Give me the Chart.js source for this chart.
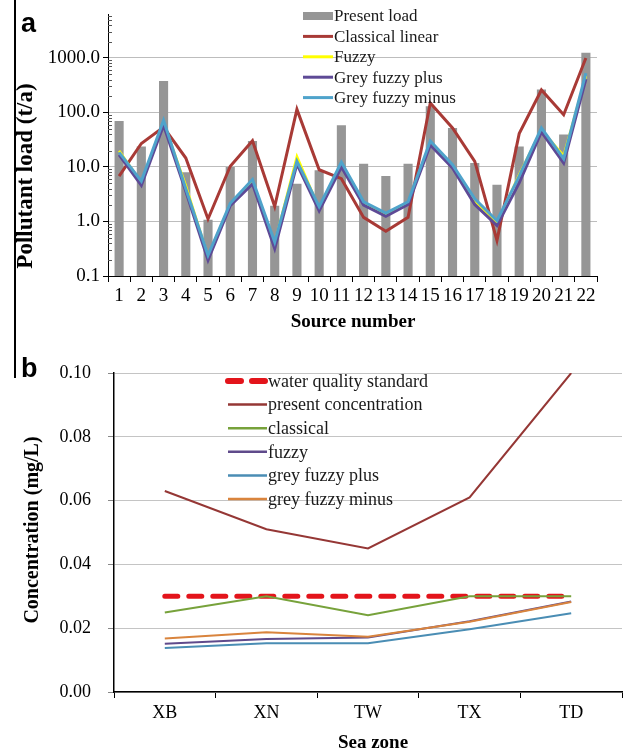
<!DOCTYPE html>
<html><head><meta charset="utf-8">
<script src="https://cdn.jsdelivr.net/npm/chart.js@4.4.1/dist/chart.umd.min.js"></script>
<style>
html,body{margin:0;padding:0;background:#fff;}
#wrap{position:relative;width:629px;height:753px;overflow:hidden;background:#fff;}
#ca{position:absolute;left:0;top:0;width:629px;height:340px;}
#cb{position:absolute;left:0;top:340px;width:629px;height:413px;}
#vline{position:absolute;left:14px;top:0;width:2px;height:378px;background:#000;}
</style></head><body>
<div id="wrap"><canvas id="ca" width="629" height="340"></canvas><canvas id="cb" width="629" height="413"></canvas><div id="vline"></div></div>
<script>
// ---------- Panel a data ----------
const sourceNumbers = ['1','2','3','4','5','6','7','8','9','10','11','12','13','14','15','16','17','18','19','20','21','22'];
const presentLoad    = [70, 23.7, 378, 8.0, 1.08, 10, 30, 1.94, 4.9, 8.7, 58, 11.5, 6.8, 11.5, 130, 52, 11.8, 4.7, 23.7, 263, 39.5, 1250];
const classicalLinear= [6.8, 27, 54, 14.6, 1.11, 10.3, 30.4, 1.88, 114, 8.9, 6.1, 1.19, 0.66, 1.19, 149, 52, 12.7, 0.45, 41, 259, 91, 1000];
const fuzzyA         = [19.8, 5.2, 66, 4.6, 0.23, 2.1, 5.5, 0.40, 15.6, 1.75, 11.5, 2.2, 1.37, 2.2, 28, 10.5, 2.4, 0.95, 7.3, 48, 16, 470];
const greyFuzzyPlusA = [16.7, 4.6, 58.5, 3.6, 0.195, 1.94, 4.9, 0.32, 11.3, 1.57, 10, 2.0, 1.24, 2.05, 25.4, 9.6, 2.05, 0.84, 5.1, 44, 11.8, 410];
const greyFuzzyMinusA= [18.5, 5.5, 72, 4.0, 0.24, 2.16, 5.9, 0.42, 12.7, 1.88, 12.3, 2.3, 1.43, 2.3, 30, 11, 2.6, 1.03, 6.8, 52, 14.2, 525];
const yTicksA = [0.1, 1, 10, 100, 1000];

// ---------- Panel b data ----------
const seaZones = ['XB','XN','TW','TX','TD'];
const waterStandard   = [0.030, 0.030, 0.030, 0.030, 0.030];
const presentConc     = [0.063, 0.051, 0.045, 0.061, 0.100];
const classicalB      = [0.0249, 0.0300, 0.0241, 0.0300, 0.0300];
const fuzzyB          = [0.0151, 0.0166, 0.0171, 0.0222, 0.0284];
const greyFuzzyPlusB  = [0.0138, 0.0153, 0.0153, 0.0197, 0.0247];
const greyFuzzyMinusB = [0.0168, 0.0187, 0.0173, 0.0220, 0.0282];

const SERIF = "'Liberation Serif','Times New Roman',serif";
const SANS = "'Liberation Sans',Arial,sans-serif";

const decorPlugin = {
  id: 'decor',
  afterDraw(chart, args, opts) {
    const ctx = chart.ctx;
    ctx.save();
    if (opts.minor) {
      const s = chart.scales.y;
      ctx.strokeStyle = '#555'; ctx.lineWidth = 1;
      for (let e = -1; e <= 3; e++) for (let k = 2; k <= 9; k++) {
        const v = k * Math.pow(10, e);
        if (v > s.max) continue;
        const y = Math.round(s.getPixelForValue(v)) + 0.5;
        ctx.beginPath(); ctx.moveTo(s.right, y); ctx.lineTo(s.right + 4, y); ctx.stroke();
      }
    }
    const L = opts.legend;
    if (L) {
      chart.data.datasets.forEach((ds, i) => {
        const y = L.y0 + i * L.dy;
        if (ds.type === 'bar') {
          ctx.fillStyle = ds.backgroundColor;
          ctx.fillRect(L.x0, y - L.barH / 2, L.x1 - L.x0, L.barH);
        } else {
          ctx.strokeStyle = ds.borderColor;
          ctx.lineWidth = ds.legendWidth || ds.borderWidth;
          ctx.lineCap = ds.borderCapStyle || 'butt';
          ctx.setLineDash(ds.borderDash || []);
          ctx.beginPath(); ctx.moveTo(L.x0, y); ctx.lineTo(L.x1, y); ctx.stroke();
          ctx.setLineDash([]);
        }
        ctx.fillStyle = '#1a1a1a';
        ctx.font = L.font;
        ctx.textAlign = 'left'; ctx.textBaseline = 'middle';
        ctx.fillText(ds.label, L.tx, y + 1);
      });
    }
    (opts.texts || []).forEach(t => {
      ctx.save();
      ctx.fillStyle = '#000';
      ctx.font = t.font;
      ctx.textAlign = t.align || 'center';
      ctx.textBaseline = t.baseline || 'middle';
      ctx.translate(t.x, t.y);
      if (t.rotate) ctx.rotate(t.rotate);
      ctx.fillText(t.text, 0, 0);
      ctx.restore();
    });
    ctx.restore();
  }
};

new Chart(document.getElementById('ca'), {
  type: 'bar',
  data: {
    labels: sourceNumbers,
    datasets: [
      { type: 'bar', label: 'Present load', data: presentLoad, backgroundColor: '#969696', barPercentage: 0.41, categoryPercentage: 1, order: 10 },
      { type: 'line', label: 'Classical linear', data: classicalLinear, borderColor: '#A83A36', borderWidth: 3, pointRadius: 0, tension: 0, order: 4 },
      { type: 'line', label: 'Fuzzy', data: fuzzyA, borderColor: '#FFFF00', borderWidth: 2.5, legendWidth: 3, pointRadius: 0, tension: 0, order: 3 },
      { type: 'line', label: 'Grey fuzzy plus', data: greyFuzzyPlusA, borderColor: '#5E4A96', borderWidth: 3, pointRadius: 0, tension: 0, order: 2 },
      { type: 'line', label: 'Grey fuzzy minus', data: greyFuzzyMinusA, borderColor: '#4FA3CB', borderWidth: 3, pointRadius: 0, tension: 0, order: 1 }
    ]
  },
  options: {
    responsive: false, animation: false,
    layout: { padding: { top: 11, right: 32, left: 0, bottom: 0 } },
    plugins: {
      legend: { display: false }, tooltip: { enabled: false },
      decor: {
        minor: true,
        legend: { x0: 303, x1: 333, tx: 334, y0: 16, dy: 20.4, barH: 8, font: '17px ' + SERIF },
        texts: [
          { text: 'a', x: 21, y: 32, font: 'bold 27px ' + SANS, align: 'left', baseline: 'alphabetic' },
          { text: 'Pollutant load (t/a)', x: 26, y: 176, font: 'bold 23px ' + SERIF, rotate: -Math.PI / 2 },
          { text: 'Source number', x: 353, y: 322, font: 'bold 19px ' + SERIF }
        ]
      }
    },
    scales: {
      x: {
        offset: true,
        grid: { offset: true, drawOnChartArea: false, tickLength: 6, tickColor: '#000' },
        border: { color: '#000', width: 1 },
        ticks: { font: { family: SERIF, size: 19 }, color: '#000', padding: 3, maxRotation: 0, autoSkip: false },
        afterFit(s) { s.height = 64; }
      },
      y: {
        type: 'logarithmic', min: 0.1, max: 6300,
        afterBuildTicks(s) { s.ticks = yTicksA.map(v => ({ value: v })); },
        ticks: { callback: v => Number(v).toFixed(1), font: { family: SERIF, size: 19 }, color: '#000', padding: 3 },
        grid: { color: '#BDBDBD', tickColor: '#000', tickLength: 5 },
        border: { color: '#000', width: 1 },
        afterFit(s) { s.width = 108; }
      }
    }
  },
  plugins: [decorPlugin]
});

new Chart(document.getElementById('cb'), {
  type: 'line',
  data: {
    labels: seaZones,
    datasets: [
      { label: 'water quality standard', data: waterStandard, borderColor: '#E3141B', borderWidth: 5, borderDash: [13, 11], borderCapStyle: 'round', legendWidth: 6, pointRadius: 0, tension: 0, order: 7 },
      { label: 'present concentration', data: presentConc, borderColor: '#953735', borderWidth: 2, legendWidth: 2.5, pointRadius: 0, tension: 0, order: 2 },
      { label: 'classical', data: classicalB, borderColor: '#77A23B', borderWidth: 2, legendWidth: 2.5, pointRadius: 0, tension: 0, order: 1 },
      { label: 'fuzzy', data: fuzzyB, borderColor: '#5F4A8B', borderWidth: 2, legendWidth: 2.5, pointRadius: 0, tension: 0, order: 5 },
      { label: 'grey fuzzy plus', data: greyFuzzyPlusB, borderColor: '#4A8DB4', borderWidth: 2, legendWidth: 2.5, pointRadius: 0, tension: 0, order: 4 },
      { label: 'grey fuzzy minus', data: greyFuzzyMinusB, borderColor: '#D9843D', borderWidth: 2, legendWidth: 2.5, pointRadius: 0, tension: 0, order: 3 }
    ]
  },
  options: {
    responsive: false, animation: false,
    layout: { padding: { top: 33, right: 7, left: 0, bottom: 0 } },
    plugins: {
      legend: { display: false }, tooltip: { enabled: false },
      decor: {
        legend: { x0: 228, x1: 267, tx: 268, y0: 41, dy: 23.6, barH: 8, font: '18px ' + SERIF },
        texts: [
          { text: 'b', x: 21, y: 37, font: 'bold 27px ' + SANS, align: 'left', baseline: 'alphabetic' },
          { text: 'Concentration (mg/L)', x: 33, y: 190, font: 'bold 20px ' + SERIF, rotate: -Math.PI / 2 },
          { text: 'Sea zone', x: 373, y: 403, font: 'bold 19px ' + SERIF }
        ]
      }
    },
    scales: {
      x: {
        offset: true,
        grid: { offset: true, drawOnChartArea: false, tickLength: 6, tickColor: '#000' },
        border: { color: '#000', width: 1.5 },
        ticks: { font: { family: SERIF, size: 18 }, color: '#000', padding: 4, maxRotation: 0 },
        afterFit(s) { s.height = 61; }
      },
      y: {
        min: 0, max: 0.1,
        ticks: { stepSize: 0.02, callback: v => Number(v).toFixed(2), font: { family: SERIF, size: 18 }, color: '#000', padding: 17 },
        grid: { color: '#C4C4C4', tickColor: '#888', tickLength: 6 },
        border: { color: '#000', width: 1.5 },
        afterFit(s) { s.width = 114; }
      }
    }
  },
  plugins: [decorPlugin]
});
</script>
</body></html>
